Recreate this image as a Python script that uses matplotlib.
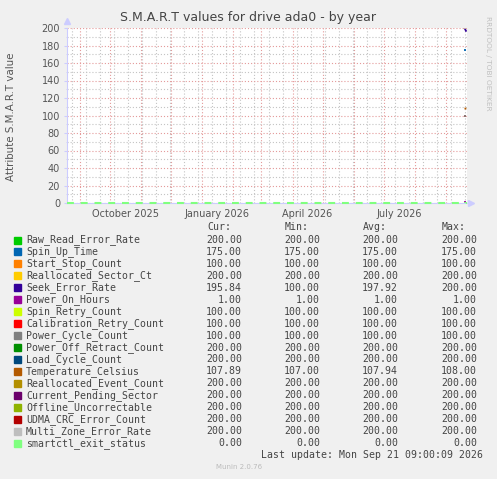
"""munin style S.M.A.R.T yearly graph for ada0"""
import matplotlib
matplotlib.use("Agg")
import matplotlib.pyplot as plt
import matplotlib.dates as mdates
from matplotlib.patches import Rectangle
from datetime import datetime

# legend / series data
names = ["Raw_Read_Error_Rate", "Spin_Up_Time", "Start_Stop_Count",
         "Reallocated_Sector_Ct", "Seek_Error_Rate", "Power_On_Hours",
         "Spin_Retry_Count", "Calibration_Retry_Count", "Power_Cycle_Count",
         "Power_Off_Retract_Count", "Load_Cycle_Count", "Temperature_Celsius",
         "Reallocated_Event_Count", "Current_Pending_Sector",
         "Offline_Uncorrectable", "UDMA_CRC_Error_Count",
         "Multi_Zone_Error_Rate", "smartctl_exit_status"]
cur = [200.00, 175.00, 100.00, 200.00, 195.84, 1.00, 100.00, 100.00, 100.00,
       200.00, 200.00, 107.89, 200.00, 200.00, 200.00, 200.00, 200.00, 0.00]
mins = [200.00, 175.00, 100.00, 200.00, 100.00, 1.00, 100.00, 100.00, 100.00,
        200.00, 200.00, 107.00, 200.00, 200.00, 200.00, 200.00, 200.00, 0.00]
avgs = [200.00, 175.00, 100.00, 200.00, 197.92, 1.00, 100.00, 100.00, 100.00,
        200.00, 200.00, 107.94, 200.00, 200.00, 200.00, 200.00, 200.00, 0.00]
maxs = [200.00, 175.00, 100.00, 200.00, 200.00, 1.00, 100.00, 100.00, 100.00,
        200.00, 200.00, 108.00, 200.00, 200.00, 200.00, 200.00, 200.00, 0.00]
colors = ["#00CC00", "#0066B3", "#FF8000", "#FFCC00", "#330099", "#990099",
          "#CCFF00", "#FF0000", "#808080", "#008F00", "#00487D", "#B35A00",
          "#B38F00", "#6B006B", "#8FB300", "#B30000", "#BEBEBE", "#80FF80"]

# only the last couple of days hold samples
sample_times = [datetime(2026, 9, 19, 12), datetime(2026, 9, 21, 9)]
first_vals = [200, 175, 100, 200, 200, 1, 100, 100, 100,
              200, 200, 108, 200, 200, 200, 200, 200, 0]

x_start = datetime(2025, 8, 19)
x_end = datetime(2026, 9, 22)
month_labels = ["October 2025", "January 2026", "April 2026", "July 2026"]
label_dates = [datetime(2025, 10, 16), datetime(2026, 1, 16),
               datetime(2026, 4, 16), datetime(2026, 7, 16)]

W, H = 497, 479
fig = plt.figure(figsize=(W / 100, H / 100), dpi=100, facecolor="#F0F0F0")
ax = fig.add_axes([67 / W, (H - 203) / H, 400 / W, 175 / H])
ax.set_facecolor("white")

for i in range(len(names)):
    ax.plot(sample_times, [first_vals[i], cur[i]], color=colors[i], lw=1.3,
            solid_capstyle="butt", zorder=3)
# smartctl exit status shown as dashed zero line
ax.axhline(cur[-1], color=colors[-1], lw=1.5, ls=(0, (3.3, 3.3)), zorder=4,
           clip_on=False)

ax.set_xlim(x_start, x_end)
ax.set_ylim(0, 200)

# grid
ax.xaxis.set_major_locator(mdates.MonthLocator())
ax.xaxis.set_minor_locator(mdates.WeekdayLocator(
    byweekday=mdates.SU, interval=2))
ax.set_yticks(range(0, 201, 20))
ax.set_yticks(range(10, 200, 20), minor=True)
ax.set_axisbelow(True)
ax.grid(which="major", color="#E49A9A", lw=0.8, ls=(0, (1, 1.8)))
ax.grid(which="minor", color="#C4C4C4", lw=0.8, ls=(0, (1, 1.8)))
ax.xaxis.set_major_formatter(plt.NullFormatter())
ax.tick_params(axis="x", which="both", length=0)
ax.tick_params(axis="y", which="both", length=2, color="#CCCCFF",
               labelsize=7, labelcolor="#555555", pad=3)
ax.tick_params(axis="y", which="minor", length=1)

for d, lab in zip(label_dates, month_labels):
    ax.text(d, -0.035, lab, transform=ax.get_xaxis_transform(),
            ha="center", va="top", fontsize=7, color="#555555")

for s in ["top", "right"]:
    ax.spines[s].set_visible(False)
for s in ["left", "bottom"]:
    ax.spines[s].set_color("#CCCCFF")
    ax.spines[s].set_linewidth(0.8)
ax.plot([0], [1.04], marker="^", ms=4, color="#CCCCFF",
        transform=ax.transAxes, clip_on=False)
ax.plot([1.01], [0], marker=">", ms=4, color="#CCCCFF",
        transform=ax.transAxes, clip_on=False)

fig.text(248 / W, 1 - 18 / H, "S.M.A.R.T values for drive ada0 - by year",
         ha="center", va="center", fontsize=9, color="#444444")
fig.text(11 / W, 1 - 117 / H, "Attribute S.M.A.R.T value", rotation=90,
         ha="center", va="center", fontsize=7.4, color="#555555")
fig.text(488 / W, 1 - 63 / H, "RRDTOOL / TOBI OETIKER", rotation=270,
         ha="center", va="center", fontsize=5.3, color="#C0C0C0")

# legend table
mono = dict(family="DejaVu Sans Mono", fontsize=7.1, color="#444444")
col_right = [242, 320, 398, 477]
headers = ["Cur:", "Min:", "Avg:", "Max:"]
for xr, h in zip(col_right, headers):
    fig.text((xr - 11) / W, 1 - 227 / H, h, ha="right", va="center", **mono)
for i, name in enumerate(names):
    y = 240 + 11.95 * i
    fig.add_artist(Rectangle((14 / W, 1 - (y + 3.5) / H), 7 / W, 7 / H,
                             transform=fig.transFigure, color=colors[i]))
    fig.text(26 / W, 1 - y / H, name, ha="left", va="center", **mono)
    for xr, v in zip(col_right, [cur[i], mins[i], avgs[i], maxs[i]]):
        fig.text(xr / W, 1 - y / H, f"{v:.2f}", ha="right", va="center", **mono)
fig.text(483 / W, 1 - 455 / H, "Last update: Mon Sep 21 09:00:09 2026",
         ha="right", va="center", **mono)
fig.text(239 / W, 1 - 467 / H, "Munin 2.0.76", ha="center", va="center",
         fontsize=5, color="#BBBBBB")

fig.savefig("out.png", dpi=100, facecolor=fig.get_facecolor())
